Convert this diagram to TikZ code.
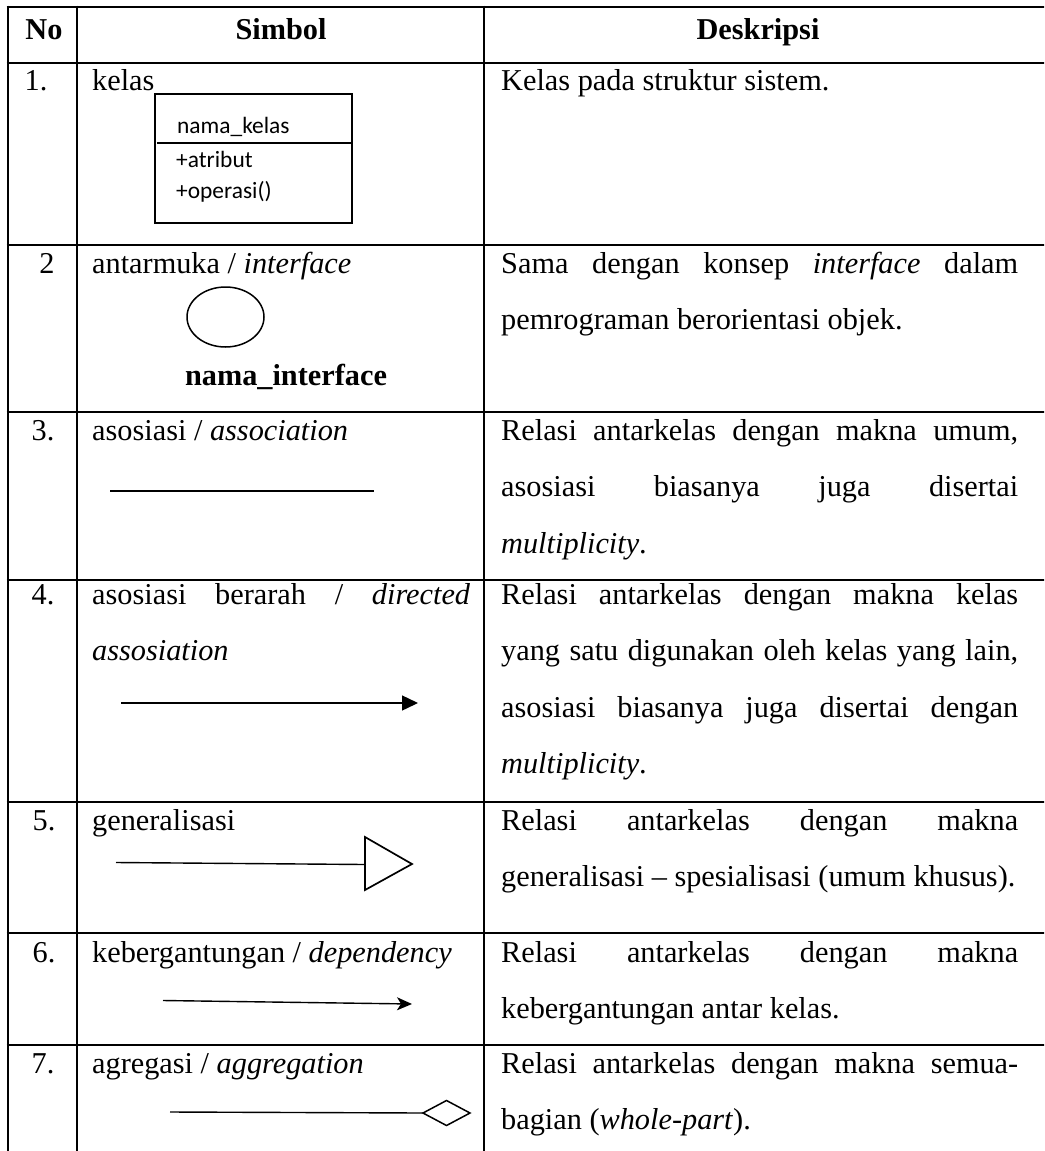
\documentclass[tikz,border=0pt]{standalone}
\usepackage{fontspec}
\setmainfont{Liberation Serif}
\newfontfamily\umlfont{Carlito}
\usetikzlibrary{arrows.meta}

\newcommand{\bodysize}{\fontsize{30.3}{56.6}\selectfont}
\newcommand{\cellpar}[2]{\parbox[t]{#1}{\bodysize\hyphenpenalty=10000\exhyphenpenalty=10000 #2}}

\begin{document}
\begin{tikzpicture}[x=1pt,y=-1pt,
  rule/.style={line width=2.6pt},
  txt/.style={anchor=base west,inner sep=0pt,font=\bodysize},
  num/.style={anchor=base,inner sep=0pt,font=\bodysize},
  head/.style={anchor=base,inner sep=0pt,font=\bodysize\bfseries},
  cell/.style={anchor=base west,inner sep=0pt},
  umltxt/.style={anchor=base west,inner sep=0pt,font=\umlfont\fontsize{23.4}{28}\selectfont},
  sym/.style={line width=1.4pt,line cap=butt},
]
\useasboundingbox (0,0) rectangle (1044,1151);
\fill[white] (0,0) rectangle (1044,1151);
\clip (0,0) rectangle (1044,1151);

% table rules
\foreach \y in {7,63,245,412,580,802,933,1045}
  \draw[rule] (6.7,\y) -- (1060,\y);
\foreach \x in {8,77,484}
  \draw[rule] (\x,5.7) -- (\x,1170);

% header
\node[head] (hno)   at (44,39)  {No};
\node[head] (hsym)  at (281,39) {Simbol};
\node[head] (hdesc) at (758,39) {Deskripsi};

% row numbers
\node[num] (n1) at (36,90)   {1.};
\node[num] (n2) at (47,273)  {2};
\node[num] (n3) at (43,440)  {3.};
\node[num] (n4) at (43,604)  {4.};
\node[num] (n5) at (44,830)  {5.};
\node[num] (n6) at (44,962)  {6.};
\node[num] (n7) at (43,1073) {7.};

% symbol column: names
\node[txt] (s1) at (92,90)   {kelas};
\node[txt] (s2) at (92,273)  {antarmuka / \textit{interface}};
\node[txt] (s3) at (92,440)  {asosiasi / \textit{association}};
\node[cell] (s4) at (92,604) {\cellpar{378pt}{asosiasi berarah / \textit{directed}\linebreak \textit{assosiation}}};
\node[txt] (s5) at (92,830)  {generalisasi};
\node[txt] (s6) at (92,962)  {kebergantungan / \textit{dependency}};
\node[txt] (s7) at (92,1073) {agregasi / \textit{aggregation}};

% class box
\draw[line width=1.8pt] (155,94) rectangle (352,223);
\draw[line width=1.8pt] (157,143) -- (352,143);
\node[umltxt] (cname) at (177,133) {nama\_kelas};
\node[umltxt] (cattr) at (176,167) {+atribut};
\node[umltxt] (cop)   at (176,198) {+operasi()};

% interface
\draw[line width=1.5pt] (225.5,317) ellipse [x radius=38.5, y radius=30];
\node[anchor=base,inner sep=0pt,font=\bodysize\bfseries] (iname) at (286,385) {nama\_interface};

% association
\coordinate (a1) at (110,491);
\coordinate (a2) at (374,491);
\draw[line width=1.3pt] (a1) -- (a2);

% directed association
\coordinate (d1) at (121,703);
\coordinate (d2) at (418,703);
\draw[sym,-{Triangle[length=16pt,width=15pt]}] (d1) -- (d2);

% generalization
\coordinate (g1) at (116,862.5);
\coordinate (g2) at (365,864.5);
\draw[sym] (g1) -- (g2);
\draw[line width=1.7pt,line join=miter] (365,837) -- (412,864) -- (365,890) -- cycle;

% dependency
\coordinate (p1) at (163,1000.5);
\coordinate (p2) at (412,1004);
\draw[sym,-{Stealth[length=15pt,width=13pt,inset=4pt]}] (p1) -- (p2);

% aggregation
\coordinate (r1) at (170,1112);
\coordinate (r2) at (423,1113);
\draw[sym] (r1) -- (r2);
\draw[line width=1.5pt,line join=miter] (423,1113) -- (446.5,1100.5) -- (470,1113) -- (446.5,1125.5) -- cycle;

% description column
\node[cell] (e1) at (501,90)   {\cellpar{517pt}{Kelas pada struktur sistem.}};
\node[cell] (e2) at (501,273)  {\cellpar{517pt}{Sama dengan konsep \textit{interface} dalam\linebreak pemrograman berorientasi objek.}};
\node[cell] (e3) at (501,440)  {\cellpar{517pt}{Relasi antarkelas dengan makna umum,\linebreak asosiasi biasanya juga disertai\linebreak \textit{multiplicity}.}};
\node[cell] (e4) at (501,604)  {\cellpar{517pt}{Relasi antarkelas dengan makna kelas\linebreak yang satu digunakan oleh kelas yang lain,\linebreak asosiasi biasanya juga disertai dengan\linebreak \textit{multiplicity}.}};
\node[cell] (e5) at (501,830)  {\cellpar{517pt}{Relasi antarkelas dengan makna\linebreak generalisasi -- spesialisasi (umum khusus).}};
\node[cell] (e6) at (501,962)  {\cellpar{517pt}{Relasi antarkelas dengan makna\linebreak kebergantungan antar kelas.}};
\node[cell] (e7) at (501,1073) {\cellpar{517pt}{Relasi antarkelas dengan makna semua-\linebreak bagian (\textit{whole-part}).}};
\end{tikzpicture}
\end{document}
